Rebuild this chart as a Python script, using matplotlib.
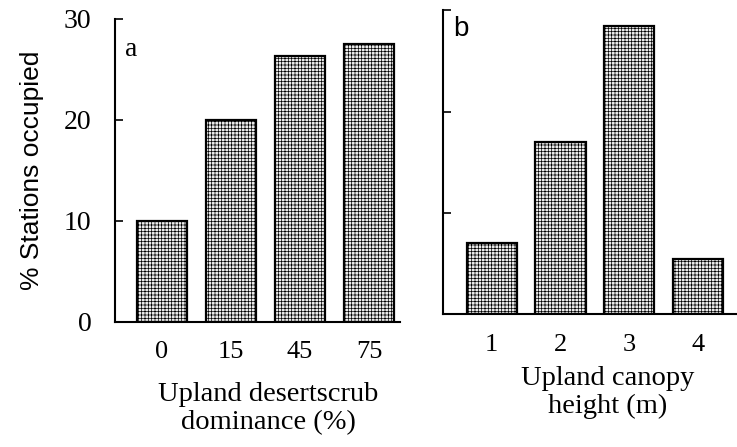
import matplotlib
matplotlib.use("Agg")
import matplotlib.pyplot as plt
import numpy as np

# Panel a: occupancy by upland desertscrub dominance
dominance_labels = ["0", "15", "45", "75"]
occupied_by_dominance = [10.0, 20.0, 26.3, 27.5]

# Panel b: occupancy by upland canopy height
height_labels = ["1", "2", "3", "4"]
occupied_by_height = [7.0, 17.0, 28.4, 5.5]

y_ticks = [0, 10, 20, 30]

plt.rcParams["hatch.color"] = "#8c8c8c"
plt.rcParams["hatch.linewidth"] = 0.5

serif = "Liberation Serif"
sans = "Liberation Sans"

fig = plt.figure(figsize=(7.37, 4.47), dpi=100)
ax_a = fig.add_axes([0.156, 0.280, 0.387, 0.678])
ax_b = fig.add_axes([0.601, 0.297, 0.399, 0.680])


def style_axes(ax, xlim):
    ax.set_xlim(*xlim)
    ax.set_ylim(0, 30)
    ax.set_yticks(y_ticks)
    for side in ("top", "right"):
        ax.spines[side].set_visible(False)
    for side in ("left", "bottom"):
        ax.spines[side].set_linewidth(1.5)
    ax.tick_params(axis="y", direction="in", length=6, width=1.2)
    ax.tick_params(axis="x", length=0, pad=14)
    for lbl in ax.get_xticklabels() + ax.get_yticklabels():
        lbl.set_fontfamily(serif)
        lbl.set_fontsize(19)


def draw_bars(ax, labels, values):
    x = np.arange(len(values))
    ax.bar(x, values, width=0.73, facecolor="#ececec", edgecolor="black",
           linewidth=1.6, hatch="+++++", zorder=2)
    ax.set_xticks(x)
    ax.set_xticklabels(labels)


draw_bars(ax_a, dominance_labels, occupied_by_dominance)
style_axes(ax_a, (-0.68, 3.45))
ax_a.tick_params(axis="y", pad=17)
for lbl in ax_a.get_yticklabels():
    lbl.set_fontsize(20)
ax_a.set_ylabel("% Stations occupied", family=sans, fontsize=19, labelpad=14)
ax_a.set_xlabel("Upland desertscrub\ndominance (%)", family=serif,
                fontsize=20.5, linespacing=1.15)
ax_a.xaxis.set_label_coords(0.537, -0.2, transform=ax_a.transAxes)
ax_a.xaxis.get_label().set_verticalalignment("top")
ax_a.text(0.035, 0.90, "a", transform=ax_a.transAxes, family=serif,
          fontsize=20, va="center", ha="left")

draw_bars(ax_b, height_labels, occupied_by_height)
style_axes(ax_b, (-0.71, 3.57))
ax_b.set_yticklabels([])
ax_b.set_xlabel("Upland canopy\nheight (m)", family=serif,
                fontsize=20.5, linespacing=1.15)
ax_b.xaxis.set_label_coords(0.56, -0.17, transform=ax_b.transAxes)
ax_b.xaxis.get_label().set_verticalalignment("top")
ax_b.text(0.035, 0.94, "b", transform=ax_b.transAxes, family=sans,
          fontsize=20, va="center", ha="left")

fig.savefig("out.png", dpi=100, facecolor="white")
